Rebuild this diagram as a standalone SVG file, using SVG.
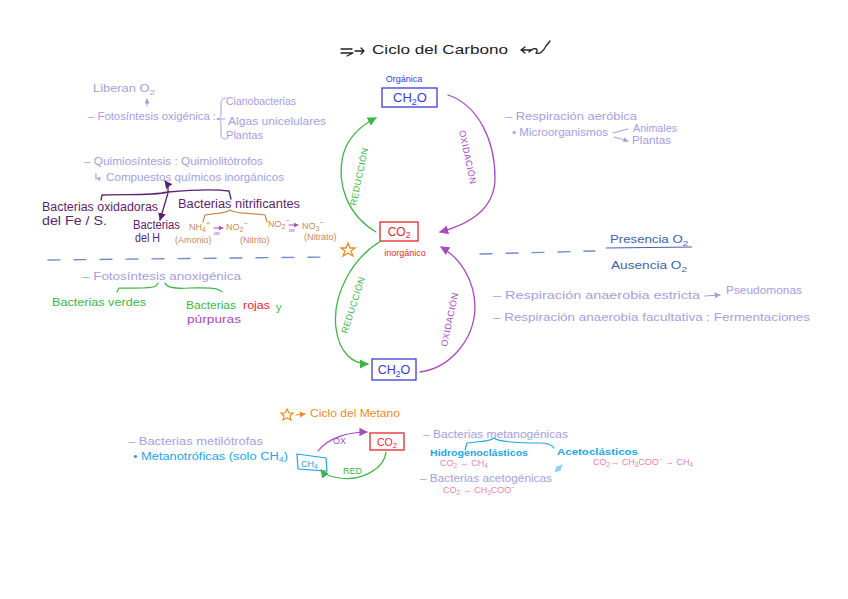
<svg xmlns="http://www.w3.org/2000/svg" width="848" height="599" viewBox="0 0 848 599">
<style>
text{font-family:"Liberation Sans","DejaVu Sans",sans-serif;}
.lav{fill:#a69ddf;font-size:10.5px;}
.dp{fill:#5a1f6e;font-size:12px;}
.br{fill:#c98a55;font-size:9px;}
.gr{fill:#3db54a;}
.rd{fill:#e8262b;}
.bl{fill:#3b3bd6;}
.cy{fill:#1ea5e6;}
.pk{fill:#f27fa0;font-size:9px;}
.pu{fill:#a64bc0;}
.or{fill:#f28a22;}
.sl{fill:none;stroke-linecap:round;stroke-linejoin:round;}
</style>
<defs>
<marker id="agr" viewBox="0 0 10 10" refX="9" refY="5" markerWidth="7" markerHeight="7" orient="auto"><path d="M0,0 L10,5 L0,10 z" fill="#3db54a"/></marker>
<marker id="apu" viewBox="0 0 10 10" refX="9" refY="5" markerWidth="7" markerHeight="7" orient="auto"><path d="M0,0 L10,5 L0,10 z" fill="#a64bc0"/></marker>
<marker id="adp" viewBox="0 0 10 10" refX="9" refY="5" markerWidth="6" markerHeight="6" orient="auto"><path d="M0,0 L10,5 L0,10 z" fill="#5a1f6e"/></marker>
<marker id="alav" viewBox="0 0 10 10" refX="9" refY="5" markerWidth="5" markerHeight="5" orient="auto"><path d="M0,0 L10,5 L0,10 z" fill="#a69ddf"/></marker>
<marker id="asm" viewBox="0 0 10 10" refX="9" refY="5" markerWidth="5" markerHeight="5" orient="auto"><path d="M0,0 L10,5 L0,10 z" fill="#a64bc0"/></marker>
<marker id="aor" viewBox="0 0 10 10" refX="9" refY="5" markerWidth="5" markerHeight="5" orient="auto"><path d="M0,0 L10,5 L0,10 z" fill="#f28a22"/></marker>
<marker id="acy" viewBox="0 0 10 10" refX="9" refY="5" markerWidth="6" markerHeight="6" orient="auto"><path d="M0,0 L10,5 L0,10 z" fill="#8fd3f0"/></marker>
<marker id="acys" viewBox="0 0 10 10" refX="1" refY="5" markerWidth="6" markerHeight="6" orient="auto"><path d="M10,0 L0,5 L10,10 z" fill="#8fd3f0"/></marker>
</defs>

<!-- Title -->
<g id="title">
<path class="sl" d="M341,49 L352,49 M341,53 L353,53 L347,56 M355,51 L364,51 M361,48 L364,51 L361,54" stroke="#222" stroke-width="1.3"/>
<text x="372" y="54" font-size="13.5" fill="#222" textLength="136" lengthAdjust="spacingAndGlyphs">Ciclo  del   Carbono</text>
<path class="sl" d="M532,50 L521,50 M525,47 L521,50 L525,53 M529,52 C533,47 540,48 536,53 C540,55 544,50 546,46 L550,41" stroke="#222" stroke-width="1.3"/>
</g>

<!-- Main cycle nodes -->
<g id="ch2o-top">
<text x="404" y="82" class="bl" font-size="9" text-anchor="middle">Orgánica</text>
<rect x="382" y="88" width="55" height="19" fill="none" stroke="#3b3bd6" stroke-width="1.3"/>
<text x="410" y="102" class="bl" font-size="13" text-anchor="middle">CH<tspan font-size="9" dy="3">2</tspan><tspan dy="-3">O</tspan></text>
</g>
<g id="co2">
<rect x="380" y="222" width="38" height="19" fill="none" stroke="#e8262b" stroke-width="1.3"/>
<text x="399" y="236" class="rd" font-size="12" text-anchor="middle">CO<tspan font-size="8.5" dy="2">2</tspan></text>
<text x="405" y="256" class="rd" font-size="9" text-anchor="middle">inorgánico</text>
</g>
<g id="ch2o-bottom">
<rect x="372" y="359" width="44" height="21" fill="none" stroke="#3b3bd6" stroke-width="1.3"/>
<text x="394" y="374" class="bl" font-size="12.5" text-anchor="middle">CH<tspan font-size="8.5" dy="3">2</tspan><tspan dy="-3">O</tspan></text>
</g>

<g id="connectors">
<path class="sl" d="M376,232 C348,215 336,185 343,155 C348,137 362,125 376,118" stroke="#3db54a" stroke-width="1.3" marker-end="url(#agr)"/>
<path class="sl" d="M448,95 C478,105 495,140 495,178 C495,208 470,224 440,232" stroke="#a64bc0" stroke-width="1.3" marker-end="url(#apu)"/>
<path class="sl" d="M381,241 C352,258 332,295 336,328 C339,352 352,364 368,364" stroke="#3db54a" stroke-width="1.3" marker-end="url(#agr)"/>
<path class="sl" d="M420,372 C450,368 474,340 475,308 C475,280 460,258 441,247" stroke="#a64bc0" stroke-width="1.3" marker-end="url(#apu)"/>
<!-- dashed boundary -->
<path class="sl" d="M48,260 L330,257" stroke="#6f8fc8" stroke-width="1.4" stroke-dasharray="12,14"/>
<path class="sl" d="M480,254 L595,251" stroke="#6f8fc8" stroke-width="1.4" stroke-dasharray="12,14"/>
</g>

<g id="cycle-labels">
<text transform="translate(356,206) rotate(-78)" class="gr" font-size="9" letter-spacing="0.5">REDUCCIÓN</text>
<text transform="translate(459,131) rotate(78)" class="pu" font-size="9" letter-spacing="0.5">OXIDACIÓN</text>
<text transform="translate(347,334) rotate(-72)" class="gr" font-size="9" letter-spacing="0.5">REDUCCIÓN</text>
<text transform="translate(447,347) rotate(-78)" class="pu" font-size="9" letter-spacing="0.5">OXIDACIÓN</text>
</g>

<g id="star">
<path d="M348,243 L350,248 L355,248 L351,251 L353,256 L348,253 L343,256 L345,251 L341,248 L346,248 z" fill="none" stroke="#f28a22" stroke-width="1.3"/>
</g>

<!-- O2 presence -->
<g id="presencia">
<text x="610" y="243" fill="#4060b0" font-size="11" textLength="78" lengthAdjust="spacingAndGlyphs">Presencia O<tspan font-size="8" dy="3">2</tspan></text>
<path d="M606,248 L692,247" stroke="#4060b0" stroke-width="1"/>
<text x="611" y="269" fill="#4060b0" font-size="11" textLength="76" lengthAdjust="spacingAndGlyphs">Ausencia O<tspan font-size="8" dy="3">2</tspan></text>
</g>

<!-- Top left: photosynthesis -->
<g id="fotosintesis-oxigenica">
<text x="93" y="92" class="lav" textLength="62" lengthAdjust="spacingAndGlyphs">Liberan O<tspan font-size="8" dy="3">2</tspan></text>
<path class="sl" d="M147,106 L147,99" stroke="#a69ddf" stroke-width="1" marker-end="url(#alav)"/>
<text x="88" y="120" class="lav" textLength="128" lengthAdjust="spacingAndGlyphs">– Fotosíntesis oxigénica :</text>
<path class="sl" d="M226,98 C222,98 221,100 221,104 L221,113 C221,117 220,119 217,119 C220,119 221,121 221,125 L221,134 C221,138 222,139 226,139 M217,119 L225,119" stroke="#a69ddf" stroke-width="1"/>
<text x="226" y="105" class="lav" textLength="70" lengthAdjust="spacingAndGlyphs">Cianobacterias</text>
<text x="228" y="125" class="lav" textLength="98" lengthAdjust="spacingAndGlyphs">Algas unicelulares</text>
<text x="226" y="139" class="lav" textLength="37" lengthAdjust="spacingAndGlyphs">Plantas</text>
</g>

<g id="quimiosintesis">
<text x="84" y="165" class="lav" textLength="179" lengthAdjust="spacingAndGlyphs">– Quimiosíntesis : Quimiolitótrofos</text>
<text x="93" y="181" class="lav" textLength="191" lengthAdjust="spacingAndGlyphs">↳ Compuestos químicos inorgánicos</text>
<path class="sl" d="M101,200 L102,195 C130,194 150,196 168,192 C190,190 215,189 229,191 L231,199 M168,192 L168,185" stroke="#5a1f6e" stroke-width="1.3"/>
<path class="sl" d="M168,185 L165,181" stroke="#5a1f6e" stroke-width="1.3" marker-end="url(#adp)"/>
<path class="sl" d="M168,193 L160,220" stroke="#5a1f6e" stroke-width="1.3" marker-end="url(#adp)"/>
</g>

<g id="bacterias-oxidadoras">
<text x="42" y="211" class="dp" textLength="116" lengthAdjust="spacingAndGlyphs">Bacterias oxidadoras</text>
<text x="42" y="225" class="dp" textLength="65" lengthAdjust="spacingAndGlyphs">del Fe / S.</text>
</g>
<g id="bacterias-h">
<text x="133" y="229" class="dp" font-size="9" textLength="47" lengthAdjust="spacingAndGlyphs">Bacterias</text>
<text x="135" y="242" class="dp" font-size="9" textLength="25" lengthAdjust="spacingAndGlyphs">del H</text>
</g>
<g id="bacterias-nitrificantes">
<text x="178" y="208" class="dp" textLength="122" lengthAdjust="spacingAndGlyphs">Bacterias nitrificantes</text>
<path class="sl" d="M203,222 L205,215 C215,213 225,214 230,210 C236,214 250,213 265,215 L267,222" stroke="#c98a55" stroke-width="1.2"/>
<text x="189" y="230" class="br" font-size="9.5">NH<tspan font-size="7" dy="2">4</tspan><tspan font-size="7" dy="-6">+</tspan></text>
<path class="sl" d="M214,228 L223,228" stroke="#a64bc0" stroke-width="1" marker-end="url(#asm)"/>
<text x="214" y="235" class="pu" font-size="5.5">ox</text>
<text x="226" y="230" class="br" font-size="9.5">NO<tspan font-size="7" dy="2">2</tspan><tspan font-size="7" dy="-6">−</tspan></text>
<text x="175" y="243" class="br" font-size="7.5">(Amonio)</text>
<text x="240" y="243" class="br" font-size="7.5">(Nitrito)</text>
<text x="268" y="227" class="br" font-size="9.5">NO<tspan font-size="7" dy="2">2</tspan><tspan font-size="7" dy="-6">−</tspan></text>
<path class="sl" d="M289,225 L298,225" stroke="#a64bc0" stroke-width="1" marker-end="url(#asm)"/>
<text x="289" y="232" class="pu" font-size="5.5">ox</text>
<text x="302" y="229" class="br" font-size="9.5">NO<tspan font-size="7" dy="2">3</tspan><tspan font-size="7" dy="-6">−</tspan></text>
<text x="304" y="240" class="br" font-size="7.5">(Nitrato)</text>
</g>

<!-- Anoxygenic photosynthesis -->
<g id="fotosintesis-anoxigenica">
<text x="82" y="280" class="lav" textLength="159" lengthAdjust="spacingAndGlyphs">– Fotosíntesis anoxigénica</text>
<path class="sl" d="M117,292 L119,288 C135,288 150,289 156,286 L158,283 M165,283 C167,288 175,289 190,288 C205,288 218,287 222,292" stroke="#3db54a" stroke-width="1.2"/>
</g>
<g id="bacterias-verdes">
<text x="52" y="306" class="gr" font-size="11" textLength="94" lengthAdjust="spacingAndGlyphs">Bacterias verdes</text>
</g>
<g id="bacterias-rojas">
<text x="186" y="309" class="gr" font-size="11" textLength="50" lengthAdjust="spacingAndGlyphs">Bacterias</text>
<text x="243" y="309" class="rd" font-size="11" textLength="27" lengthAdjust="spacingAndGlyphs">rojas</text>
<text x="276" y="311" class="gr" font-size="11">y</text>
<text x="187" y="323" class="pu" font-size="11" textLength="54" lengthAdjust="spacingAndGlyphs">púrpuras</text>
</g>

<!-- Right side respiration -->
<g id="respiracion-aerobica">
<text x="505" y="120" class="lav" textLength="132" lengthAdjust="spacingAndGlyphs">– Respiración aeróbica</text>
<text x="512" y="136" class="lav" textLength="96" lengthAdjust="spacingAndGlyphs">• Microorganismos</text>
<path class="sl" d="M613,133 L628,129 M614,137 L628,141" stroke="#a69ddf" stroke-width="1" marker-end="url(#alav)"/>
<text x="633" y="132" class="lav" font-size="9.5" textLength="44" lengthAdjust="spacingAndGlyphs">Animales</text>
<text x="632" y="144" class="lav" font-size="9.5" textLength="39" lengthAdjust="spacingAndGlyphs">Plantas</text>
</g>
<g id="respiracion-anaerobia">
<text x="493" y="299" class="lav" textLength="207" lengthAdjust="spacingAndGlyphs">– Respiración anaerobia estricta</text>
<path class="sl" d="M705,296 L720,295" stroke="#a69ddf" stroke-width="1.2" marker-end="url(#alav)"/>
<text x="726" y="294" class="lav" textLength="76" lengthAdjust="spacingAndGlyphs">Pseudomonas</text>
<text x="493" y="321" class="lav" textLength="317" lengthAdjust="spacingAndGlyphs">– Respiración anaerobia facultativa : Fermentaciones</text>
</g>

<!-- Methane cycle -->
<g id="ciclo-metano">
<path d="M287,409 L289,413 L293,413 L290,416 L291,420 L287,418 L283,420 L284,416 L281,413 L285,413 z" fill="none" stroke="#f28a22" stroke-width="1.2"/>
<path class="sl" d="M296,415 L305,414" stroke="#f28a22" stroke-width="1.2" marker-end="url(#aor)"/>
<text x="310" y="417" class="or" font-size="10" textLength="90" lengthAdjust="spacingAndGlyphs">Ciclo del Metano</text>
</g>
<g id="metilotrofas">
<text x="128" y="445" class="lav" textLength="135" lengthAdjust="spacingAndGlyphs">– Bacterias metilótrofas</text>
<text x="133" y="460" class="cy" font-size="10" textLength="155" lengthAdjust="spacingAndGlyphs">• Metanotróficas (solo CH<tspan font-size="7" dy="2">4</tspan><tspan dy="-2">)</tspan></text>
</g>
<g id="ch4">
<path d="M297,454 L326,458 L327,471 L298,469 z" fill="none" stroke="#1ea5e6" stroke-width="1.2"/>
<text x="301" y="467" class="cy" font-size="9">CH<tspan font-size="6.5" dy="2">4</tspan></text>
</g>
<g id="co2-small">
<rect x="370" y="433" width="34" height="17" fill="none" stroke="#e8262b" stroke-width="1.3"/>
<text x="387" y="446" class="rd" font-size="10.5" text-anchor="middle">CO<tspan font-size="7.5" dy="2">2</tspan></text>
</g>
<g id="methane-connectors">
<path class="sl" d="M318,451 C328,438 348,432 367,432" stroke="#a64bc0" stroke-width="1.2" marker-end="url(#apu)"/>
<path class="sl" d="M386,452 C384,470 360,481 340,478 C330,477 324,474 321,470" stroke="#3db54a" stroke-width="1.2" marker-end="url(#agr)"/>
<text x="333" y="444" class="pu" font-size="9">OX</text>
<text x="343" y="474" class="gr" font-size="9">RED</text>
</g>
<g id="metanogenicas">
<text x="423" y="438" class="lav" textLength="145" lengthAdjust="spacingAndGlyphs">– Bacterias metanogénicas</text>
<path class="sl" d="M465,450 L467,443 C480,441 490,442 494,438 C498,442 515,443 540,443 C548,443 552,445 554,448" stroke="#1ea5e6" stroke-width="1.1"/>
<text x="430" y="456" class="cy" font-size="9" font-weight="bold" textLength="98" lengthAdjust="spacingAndGlyphs">Hidrogenoclásticos</text>
<text x="557" y="455" class="cy" font-size="9.5" font-weight="bold" textLength="81" lengthAdjust="spacingAndGlyphs">Acetoclásticos</text>
<text x="440" y="466" class="pk">CO<tspan font-size="6.5" dy="2">2</tspan><tspan dy="-2"> → CH</tspan><tspan font-size="6.5" dy="2">4</tspan></text>
<text x="593" y="465" class="pk">CO<tspan font-size="6.5" dy="2">2</tspan><tspan dy="-2">→ CH</tspan><tspan font-size="6.5" dy="2">3</tspan><tspan dy="-2">COO</tspan><tspan font-size="6.5" dy="-3">−</tspan><tspan dy="3"> → CH</tspan><tspan font-size="6.5" dy="2">4</tspan></text>
<path class="sl" d="M555,472 L562,465" stroke="#8fd3f0" stroke-width="1.1" marker-end="url(#acy)" marker-start="url(#acys)"/>
</g>
<g id="acetogenicas">
<text x="420" y="482" class="lav" textLength="132" lengthAdjust="spacingAndGlyphs">– Bacterias acetogénicas</text>
<text x="443" y="493" class="pk">CO<tspan font-size="6.5" dy="2">2</tspan><tspan dy="-2"> → CH</tspan><tspan font-size="6.5" dy="2">3</tspan><tspan dy="-2">COO</tspan><tspan font-size="6.5" dy="-3">−</tspan></text>
</g>
</svg>
